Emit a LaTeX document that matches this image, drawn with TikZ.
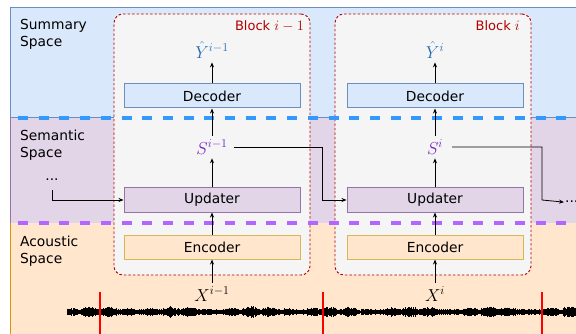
\RequirePackage{fix-cm}
\documentclass[tikz,border=0pt]{standalone}
\usepackage{fontspec}
\setmainfont{DejaVu Sans}
\usetikzlibrary{arrows.meta}
\definecolor{sumfill}{HTML}{DAE8FC}
\definecolor{sumdraw}{HTML}{6C8EBF}
\definecolor{semfill}{HTML}{E1D5E7}
\definecolor{semdraw}{HTML}{9673A6}
\definecolor{acofill}{HTML}{FFE6CC}
\definecolor{acodraw}{HTML}{D79B00}
\definecolor{encdraw}{HTML}{D6B656}
\definecolor{blkfill}{HTML}{F5F5F5}
\definecolor{blkdraw}{HTML}{B20000}
\definecolor{bluedash}{HTML}{3399FF}
\definecolor{purpdash}{HTML}{B266FF}
\definecolor{yblue}{HTML}{1F6BB5}
\definecolor{spurp}{HTML}{7020C0}
\newcommand{\mainsz}{\fontsize{13.8}{17}\selectfont}
\newcommand{\blksz}{\fontsize{13}{15}\selectfont}
\newcommand{\blkmath}[1]{{\fontsize{14.4}{16}\selectfont$#1$}}
\newcommand{\mathsz}{\fontsize{17.28}{20}\selectfont}
\tikzset{
  blockbox/.style={draw=blkdraw, fill=blkfill, line width=0.9pt, dash pattern=on 2.5pt off 2pt,
    rounded corners=9pt, minimum width=196pt, minimum height=261pt, inner sep=0pt},
  unit/.style={line width=1pt, minimum width=176pt, minimum height=24pt, inner sep=0pt},
  decbox/.style={unit, fill=sumfill, draw=sumdraw},
  updbox/.style={unit, fill=semfill, draw=semdraw},
  encbox/.style={unit, fill=acofill, draw=encdraw},
  mlabel/.style={inner sep=4pt},
  arr/.style={-{Stealth[length=5pt,width=4pt]}, line width=0.8pt, black},
  spacelbl/.style={anchor=north west, align=left, inner sep=0pt},
  blklbl/.style={anchor=east, inner sep=0pt, text=blkdraw},
  bigdash/.style={line width=3.5pt, dash pattern=on 10pt off 10.7pt},
  dotlbl/.style={inner sep=1pt}
}
\begin{document}
\begin{tikzpicture}[x=1pt,y=-1pt]
\useasboundingbox (0,0) rectangle (576,334);
\clip (0,0) rectangle (576,334);
% bands
\fill[sumfill] (10,8) rectangle (590,118);
\fill[semfill] (10,118) rectangle (590,223);
\fill[acofill] (10,223) rectangle (590,340);
\draw[sumdraw, line width=1pt] (590,8) -- (10,8) -- (10,118) -- (590,118);
\draw[semdraw, line width=1pt] (10,118) -- (10,223);
\draw[acodraw, line width=1pt] (10,223) -- (10,340);
% space labels
\node[spacelbl, font=\mainsz] (lsum) at (20,19) {Summary\\Space};
\node[spacelbl, font=\mainsz] (lsem) at (20,130) {Semantic\\Space};
\node[spacelbl, font=\mainsz] (laco) at (20,236) {Acoustic\\Space};
% blocks
\node[blockbox] (blk1) at (212,144.5) {};
\node[blockbox] (blk2) at (433,144.5) {};
\node[blklbl, font=\blksz] (bl1) at (304,26) {Block \blkmath{i-1}};
\node[blklbl, font=\blksz] (bl2) at (520,26) {Block \blkmath{i}};
% dashed separators
\draw[bigdash, bluedash] (18,118) -- (590,118);
\draw[bigdash, purpdash] (18,223) -- (590,223);
% block 1
\node[decbox, font=\mainsz] (dec1) at (212,96) {Decoder};
\node[updbox, font=\mainsz] (upd1) at (212,200) {Updater};
\node[encbox, font=\mainsz] (enc1) at (212,247) {Encoder};
\node[mlabel, text=yblue, font=\mathsz] (y1) at (212,50) {$\hat{Y}^{i-1}$};
\node[mlabel, text=spurp, font=\mathsz] (s1) at (212,147) {$S^{i-1}$};
\node[mlabel, font=\mathsz] (x1) at (212,294) {$X^{i-1}$};
% block 2
\node[decbox, font=\mainsz] (dec2) at (435,96) {Decoder};
\node[updbox, font=\mainsz] (upd2) at (435,200) {Updater};
\node[encbox, font=\mainsz] (enc2) at (435,247) {Encoder};
\node[mlabel, text=yblue, font=\mathsz] (y2) at (435,50) {$\hat{Y}^{i}$};
\node[mlabel, text=spurp, font=\mathsz] (s2) at (435,147) {$S^{i}$};
\node[mlabel, font=\mathsz] (x2) at (435,294) {$X^{i}$};
% vertical arrows
\foreach \k in {1,2}{
  \draw[arr] (dec\k) -- (y\k);
  \draw[arr] (s\k) -- (dec\k);
  \draw[arr] (upd\k) -- (s\k);
  \draw[arr] (enc\k) -- (upd\k);
  \draw[arr] (x\k) -- (enc\k);
}
% dots and lateral connectors
\node[dotlbl, anchor=base, font=\mainsz] (d0) at (52,181) {...};
\coordinate (d0s) at (52,190);
\draw[arr] (d0s) |- (upd1.west);
\coordinate (c1) at (322,200);
\draw[arr] ([xshift=2pt]s1.east) -| (c1) -- (upd2.west);
\node[dotlbl, anchor=base west, font=\mainsz] (d3) at (564,203) {...};
\coordinate (c2) at (542,200);
\draw[arr] ([xshift=5pt]s2.east) -| (c2) -- (d3.west);
% waveform
\pgfmathsetseed{12}
\foreach \i in {0,...,640}{
  \pgfmathsetmacro\wx{67+\i*0.8}
  \pgfmathsetmacro\wa{(2.0+3.2*abs(sin(\wx*9))*abs(sin(\wx*2.3+40)))*(0.6+0.4*rnd)+1.0*rnd}
  \draw[line width=0.9pt] ({\wx},{312-\wa}) -- ({\wx},{312+\wa});
}
% red segment markers
\foreach \rx in {100,323,542}{
  \draw[red, line width=2pt] (\rx,292) -- (\rx,336);
}
\end{tikzpicture}
\end{document}
